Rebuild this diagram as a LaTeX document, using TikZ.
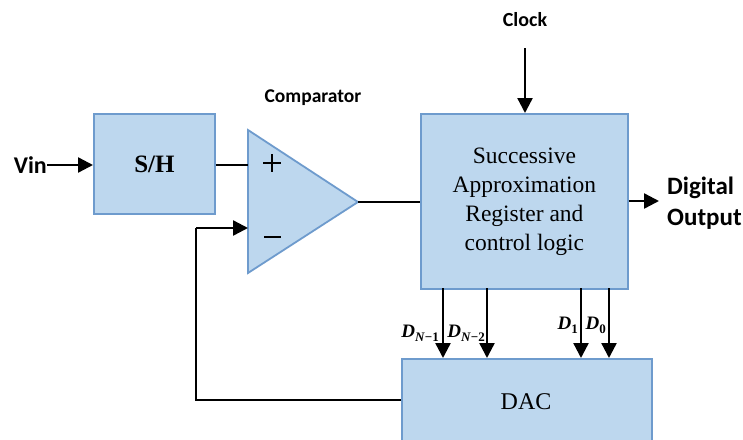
\documentclass[tikz,border=0pt]{standalone}
\usepackage{fontspec}
\setmainfont{Liberation Serif}
\newfontfamily\labfont{Carlito}
\usetikzlibrary{arrows.meta}
\definecolor{boxfill}{RGB}{189,215,238}
\definecolor{boxline}{RGB}{110,155,205}
\newcommand{\dsub}[1]{\raisebox{-4pt}{\fontsize{13}{14}\selectfont #1}}
\tikzset{
  blk/.style={draw=boxline, fill=boxfill, line width=1.8pt, inner sep=0pt, anchor=north west},
  wire/.style={line width=2.4pt, draw=black},
  arr/.style={wire, -{Triangle[length=15pt,width=15pt]}},
  lab/.style={font=\labfont\bfseries, inner sep=0pt},
  dlab/.style={font=\fontsize{19}{20}\selectfont\bfseries\itshape, inner sep=0pt}
}
\begin{document}
\begin{tikzpicture}[x=1pt,y=-1pt]
\useasboundingbox (0,0) rectangle (743,439);
\fill[white] (0,0) rectangle (743,439);
% blocks
\node[blk, minimum width=121pt, minimum height=100pt] (sh) at (93,113) {};
\node[font=\fontsize{25}{28}\selectfont\bfseries] at (sh.center) {S/H};
\node[blk, minimum width=207pt, minimum height=175pt] (sar) at (420,113) {};
\node[font=\fontsize{23.5}{29}\selectfont, align=center] at ([yshift=0pt]sar.center) {Successive\\Approximation\\Register and\\control logic};
\node[blk, minimum width=250pt, minimum height=90pt] (dac) at (401,358) {};
\node[font=\fontsize{24}{28}\selectfont] at (526,402) {DAC};
% comparator
\coordinate (ctop) at (248,130);
\coordinate (cbot) at (248,273);
\coordinate (cout) at (358,202);
\coordinate (cplus) at (248,165);
\coordinate (cminus) at (248,228);
\draw[draw=boxline, fill=boxfill, line width=1.8pt, line join=miter] (ctop) -- (cout) -- (cbot) -- cycle;
\draw[line width=2.2pt] (263,163) -- (281,163) (272,154) -- (272,172);
\draw[line width=2.2pt] (264,237) -- (281,237);
% labels
\node[lab, font=\labfont\bfseries\fontsize{24}{26}\selectfont, anchor=east] (vin) at (47,165) {Vin};
\node[lab, font=\labfont\bfseries\fontsize{19.5}{22}\selectfont] (comp) at (313,98) {Comparator};
\node[lab, font=\labfont\bfseries\fontsize{20}{22}\selectfont] (clk) at (525,20) {Clock};
\node[lab, font=\labfont\bfseries\fontsize{25}{31}\selectfont, align=left, anchor=west] (dout) at (667,203) {Digital\\Output};
% wires
\coordinate (clks) at (525,48);
\draw[arr] (clks) -- (clks |- sar.north);
\draw[arr] (vin.east) -- (sh.west |- vin.east);
\draw[wire] (sh.east |- cplus) -- (cplus);
\draw[wire] (cout) -- (sar.west |- cout);
\coordinate (doe) at (659,201);
\draw[arr] (sar.east |- doe) -- (doe);
\coordinate (fb1) at (196,228);
\coordinate (fb2) at (196,400);
\draw[wire] (dac.west |- fb2) -- (fb2) -- (fb1);
\draw[arr] (fb1) -- (cminus);
% data bits
\foreach \x/\n in {443/a,487/b,581/c,609/d}{
  \draw[arr] (\x,288) -- (\x,358);
}
\node[dlab, anchor=east] at (439,333) {D\dsub{\textit{N}\textup{−1}}};
\node[dlab, anchor=east] at (485,333) {D\dsub{\textit{N}\textup{−2}}};
\node[dlab, anchor=east] at (578,325) {D\dsub{\textup{1}}};
\node[dlab, anchor=east] at (606,325) {D\dsub{\textup{0}}};
\end{tikzpicture}
\end{document}
